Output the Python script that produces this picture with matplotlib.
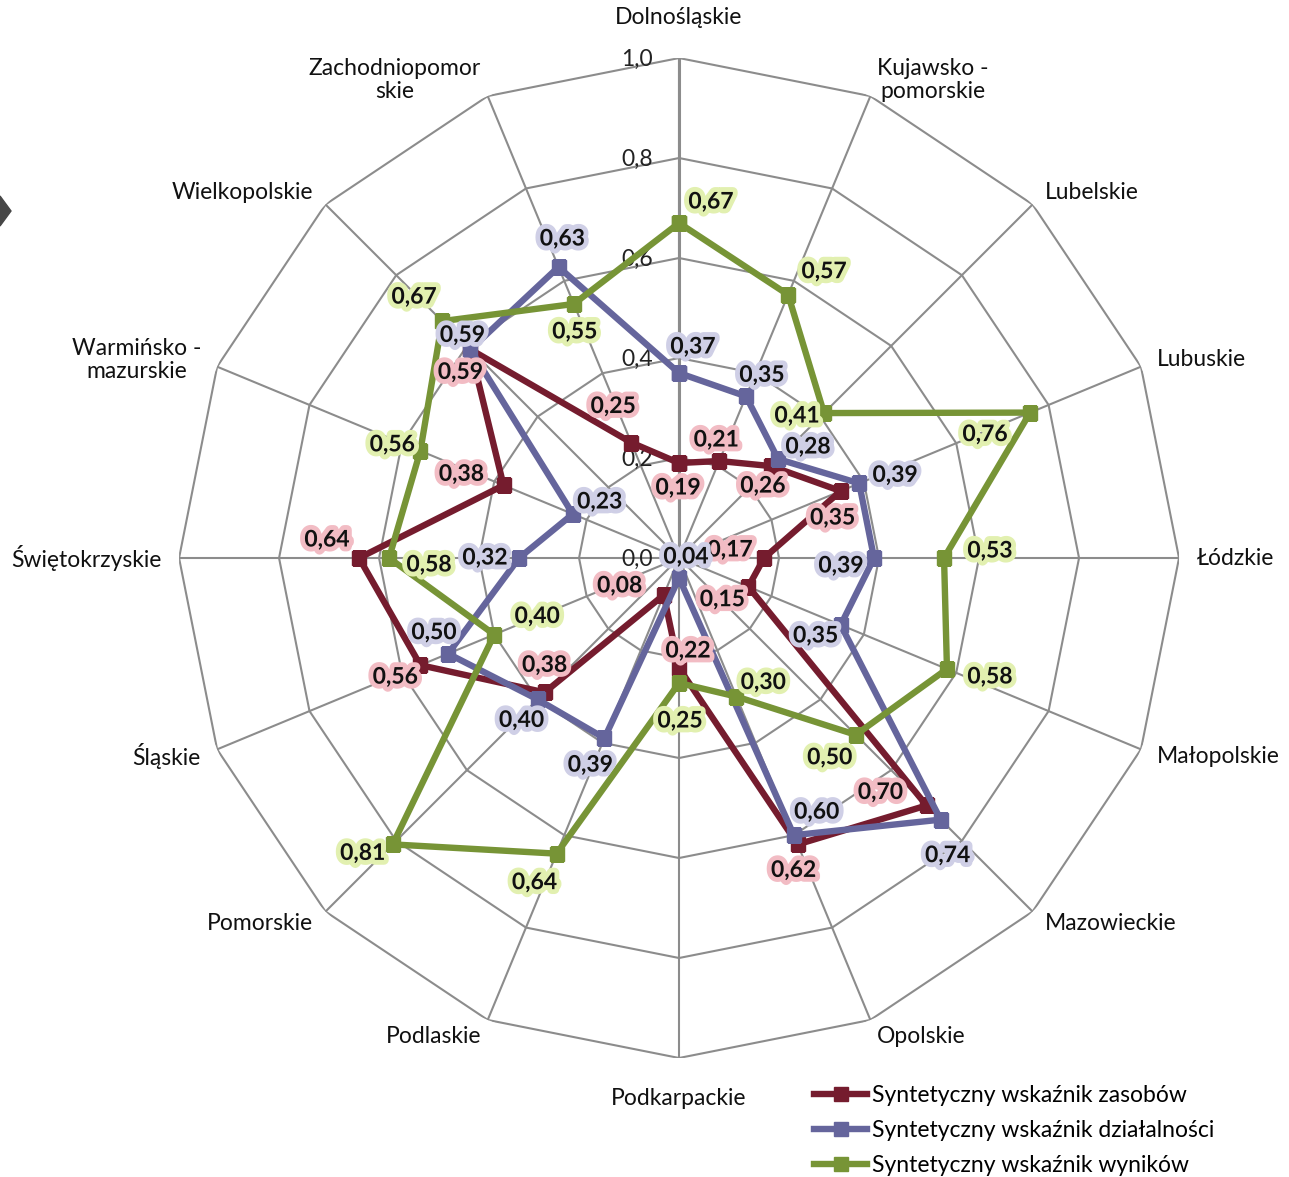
import numpy as np
import matplotlib.pyplot as plt
import matplotlib.patheffects as pe
from matplotlib.patches import Polygon

plt.rcParams["font.family"] = ["Lato", "DejaVu Sans"]
plt.rcParams["font.size"] = 16.5

regions = [
    "Dolnośląskie", "Kujawsko -\npomorskie", "Lubelskie", "Lubuskie", "Łódzkie",
    "Małopolskie", "Mazowieckie", "Opolskie", "Podkarpackie", "Podlaskie",
    "Pomorskie", "Śląskie", "Świętokrzyskie", "Warmińsko -\nmazurskie",
    "Wielkopolskie", "Zachodniopomor\nskie",
]
zasobow = [0.19, 0.21, 0.26, 0.35, 0.17, 0.15, 0.70, 0.62,
           0.22, 0.08, 0.38, 0.56, 0.64, 0.38, 0.59, 0.25]
dzialalnosci = [0.37, 0.35, 0.28, 0.39, 0.39, 0.35, 0.74, 0.60,
                0.04, 0.39, 0.40, 0.50, 0.32, 0.23, 0.59, 0.63]
wynikow = [0.67, 0.57, 0.41, 0.76, 0.53, 0.58, 0.50, 0.30,
           0.25, 0.64, 0.81, 0.40, 0.58, 0.56, 0.67, 0.55]
series_names = [
    "Syntetyczny wskaźnik zasobów",
    "Syntetyczny wskaźnik działalności",
    "Syntetyczny wskaźnik wyników",
]
rticks = [0.0, 0.2, 0.4, 0.6, 0.8, 1.0]

# label offsets (pixels) for the data labels, as Excel placed them
off_zas = [(-1, -25), (-3, 21), (-8, -20), (-8, -27), (-34, 8), (-26, -13),
           (-46, 13), (-4, -26), (9, 17), (-44, 9), (0, 27), (-25, -12),
           (-32, 18), (-42, 11), (-10, -23), (-18, 36)]
off_dzi = [(14, 26), (16, 21), (30, 12), (36, 8), (-33, -8), (-25, -11),
           (7, -36), (23, 23), (7, 21), (-14, -27), (-16, -21), (-14, 21),
           (-34, 0), (27, 12), (-8, 14), (4, 28)]
off_wyn = [(32, 21), (36, 23), (-27, -3), (-45, -22), (46, 7), (43, -8),
           (-26, -23), (27, 14), (1, -38), (-22, -29), (-30, -9), (43, 18),
           (40, -7), (-28, 6), (-28, 24), (1, -28)]

colors = ["#751c2e", "#65659c", "#779436"]
halos = ["#f2bcc4", "#cfcfe6", "#e2f0b0"]
grid_c = "#8c8c8c"

n = len(regions)
theta = np.arange(n) * 2 * np.pi / n
theta_c = np.append(theta, theta[0])

fig = plt.figure(figsize=(12.89, 11.77), dpi=100)
ax = fig.add_axes([0.1389, 0.1011, 0.7758, 0.8496], projection="polar")
ax.set_theta_zero_location("N")
ax.set_theta_direction(-1)
ax.set_ylim(0, 1)
ax.set_xticks([])
ax.set_yticks([])
ax.grid(False)
ax.spines["polar"].set_visible(False)
ax.patch.set_visible(False)

# polygon grid and spokes
for r in rticks[1:]:
    ax.plot(theta_c, [r] * (n + 1), color=grid_c, lw=1.5, zorder=1)
for t in theta:
    ax.plot([t, t], [0, 1], color=grid_c, lw=1.5, zorder=1)
ax.plot([0, 0], [0, 1], color=grid_c, lw=2.2, zorder=1)

for r in rticks:
    ax.annotate(f"{r:.1f}".replace(".", ","), xy=(0, r), xytext=(-26, -1),
                textcoords="offset pixels", ha="right", va="center",
                fontsize=16.5, color="#222222", zorder=2)

# category labels
for t, name in zip(theta, regions):
    s, c = np.sin(t), np.cos(t)
    if abs(s) < 1e-6:
        ha = "center"
        va = "bottom" if c > 0 else "top"
        rr = 1.06
    else:
        ha = "left" if s > 0 else "right"
        va = "center"
        rr = 1.035
    ax.text(t, rr, name, ha=ha, va=va, multialignment="center",
            fontsize=16.5, color="#111111", linespacing=1.15)

all_vals = [zasobow, dzialalnosci, wynikow]
all_offs = [off_zas, off_dzi, off_wyn]
for k, (vals, name) in enumerate(zip(all_vals, series_names)):
    ax.plot(theta_c, vals + vals[:1], color=colors[k], lw=4.6, marker="s",
            markersize=10, solid_joinstyle="miter", label=name, zorder=3 + k)

for k, (vals, offs) in enumerate(zip(all_vals, all_offs)):
    for t, v, o in zip(theta, vals, offs):
        ax.annotate(f"{v:.2f}".replace(".", ","), xy=(t, v), xytext=o,
                    textcoords="offset pixels", ha="center", va="center",
                    fontsize=16.5, fontweight="bold", color="#111111", zorder=10,
                    path_effects=[pe.withStroke(linewidth=7, foreground=halos[k])])

leg = fig.legend(loc="upper left", bbox_to_anchor=(803 / 1289, 1 - 1074 / 1177),
                 frameon=False, fontsize=16.5, handlelength=2.3,
                 handletextpad=0.2, labelspacing=0.6, borderpad=0)

# small dark marker cut at the left edge of the page
fig.patches.append(Polygon([(0, 1 - 196 / 1177), (11 / 1289, 1 - 211 / 1177),
                            (0, 1 - 226 / 1177)], closed=True,
                           transform=fig.transFigure, color="#474747"))

fig.savefig("out.png", dpi=100)
